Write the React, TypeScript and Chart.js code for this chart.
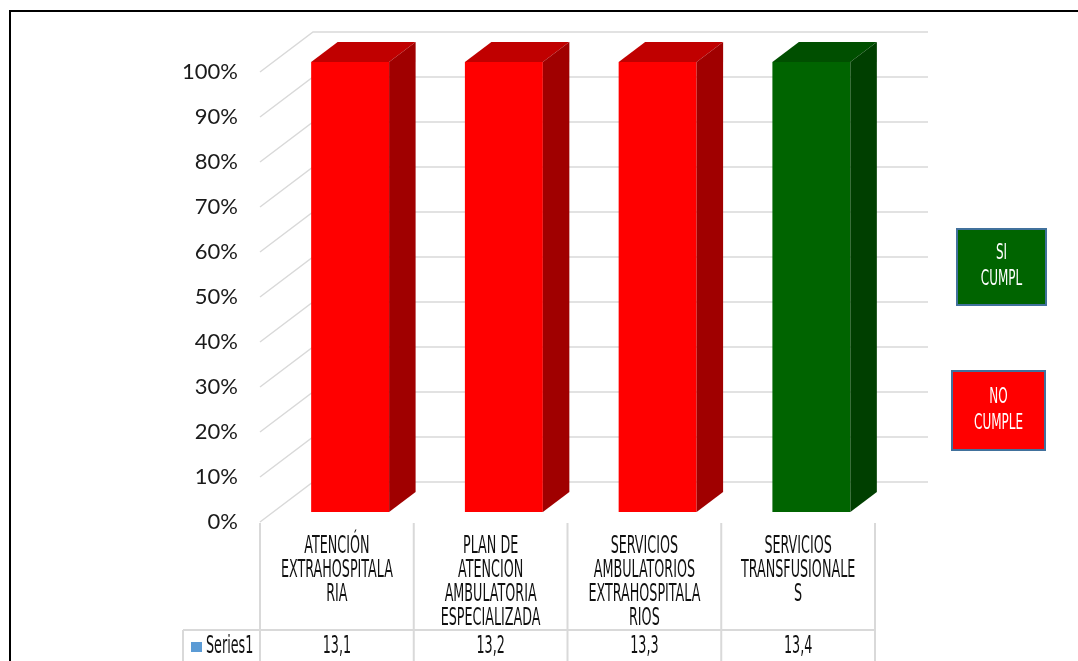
import React, { useEffect, useRef } from "react";
import { Chart, registerables } from "chart.js";

Chart.register(...registerables);

// ---------- data ----------
const categories: string[][] = [
  ["ATENCIÓN", "EXTRAHOSPITALA", "RIA"],
  ["PLAN DE", "ATENCION", "AMBULATORIA", "ESPECIALIZADA"],
  ["SERVICIOS", "AMBULATORIOS", "EXTRAHOSPITALA", "RIOS"],
  ["SERVICIOS", "TRANSFUSIONALE", "S"],
];
const seriesName = "Series1";
const sharePercent = [100, 100, 100, 100]; // 100% stacked share of the single series
const tableValues = ["13,1", "13,2", "13,3", "13,4"];
const yTickValues = [0, 10, 20, 30, 40, 50, 60, 70, 80, 90, 100];
const status = ["NO", "NO", "NO", "SI"];
const legendLabels = [
  ["SI", "CUMPL"],
  ["NO", "CUMPLE"],
];

// ---------- styles ----------
const FRONT: Record<string, string> = { NO: "#FF0000", SI: "#006400" };
const TOP: Record<string, string> = { NO: "#C00000", SI: "#004F00" };
const SIDE: Record<string, string> = { NO: "#A00000", SI: "#003F00" };
const GRID = "#D9D9D9";
const DEPTH_X = 53;
const DEPTH_Y = -40;
const NARROW = '"Liberation Sans Narrow", "DejaVu Sans Condensed", "Liberation Sans", sans-serif';

function fitScale(ctx: CanvasRenderingContext2D, size: number, sample: string, target: number) {
  ctx.save();
  ctx.font = `${size}px ${NARROW}`;
  const w = ctx.measureText(sample).width;
  ctx.restore();
  return target / w;
}

function drawNarrow(
  ctx: CanvasRenderingContext2D,
  text: string,
  x: number,
  y: number,
  size: number,
  color: string,
  align: CanvasTextAlign,
  k: number
) {
  ctx.save();
  ctx.font = `${size}px ${NARROW}`;
  ctx.fillStyle = color;
  ctx.textAlign = align;
  ctx.textBaseline = "middle";
  ctx.translate(x, y);
  ctx.scale(k, 1);
  ctx.fillText(text, 0, 0);
  ctx.restore();
}

const threeD = {
  id: "threeD",
  beforeDatasetsDraw(chart: any) {
    const { ctx, chartArea, scales } = chart;
    const y = scales.y;
    ctx.save();
    ctx.strokeStyle = GRID;
    ctx.lineWidth = 1.5;
    yTickValues.forEach((v) => {
      const py = y.getPixelForValue(v);
      ctx.beginPath();
      ctx.moveTo(chartArea.left, py);
      ctx.lineTo(chartArea.left + DEPTH_X, py + DEPTH_Y);
      ctx.lineTo(chartArea.right + DEPTH_X, py + DEPTH_Y);
      ctx.stroke();
    });
    ctx.restore();
  },
  beforeDatasetDraw(chart: any) {
    chart.ctx.save();
    chart.ctx.translate(DEPTH_X * 0.25, DEPTH_Y * 0.25);
  },
  afterDatasetDraw(chart: any, args: any) {
    const ctx = chart.ctx;
    const bdx = DEPTH_X * 0.5;
    const bdy = DEPTH_Y * 0.5;
    args.meta.data.forEach((bar: any, i: number) => {
      const { x, y, base, width } = bar.getProps(["x", "y", "base", "width"], true);
      const x0 = x - width / 2;
      const x1 = x + width / 2;
      const st = status[i];
      ctx.fillStyle = TOP[st];
      ctx.beginPath();
      ctx.moveTo(x0, y);
      ctx.lineTo(x0 + bdx, y + bdy);
      ctx.lineTo(x1 + bdx, y + bdy);
      ctx.lineTo(x1, y);
      ctx.closePath();
      ctx.fill();
      ctx.fillStyle = SIDE[st];
      ctx.beginPath();
      ctx.moveTo(x1, y);
      ctx.lineTo(x1 + bdx, y + bdy);
      ctx.lineTo(x1 + bdx, base + bdy);
      ctx.lineTo(x1, base);
      ctx.closePath();
      ctx.fill();
    });
    ctx.restore();
  },
  afterDraw(chart: any) {
    const { ctx, chartArea, scales, width: cw, height: ch } = chart;
    const x = scales.x;
    const n = categories.length;
    const colW = (chartArea.right - chartArea.left) / n;
    const CAT = 25;
    const kCat = fitScale(ctx, CAT, "EXTRAHOSPITALA", 112);
    const LEG = 21;
    const kLeg = fitScale(ctx, LEG, "CUMPLE", 49);
    const rowY = 630;

    // outer frame
    ctx.save();
    ctx.strokeStyle = "#000";
    ctx.lineWidth = 2;
    ctx.beginPath();
    ctx.moveTo(10, ch + 5);
    ctx.lineTo(10, 11);
    ctx.lineTo(cw + 5, 11);
    ctx.stroke();

    // data table lines
    ctx.strokeStyle = GRID;
    ctx.lineWidth = 2;
    for (let i = 0; i <= n; i++) {
      const lx = chartArea.left + i * colW;
      ctx.beginPath();
      ctx.moveTo(lx, chartArea.bottom + 1);
      ctx.lineTo(lx, ch);
      ctx.stroke();
    }
    ctx.beginPath();
    ctx.moveTo(183, rowY);
    ctx.lineTo(chartArea.right, rowY);
    ctx.stroke();
    ctx.beginPath();
    ctx.moveTo(183, rowY);
    ctx.lineTo(183, ch);
    ctx.stroke();
    ctx.restore();

    // category labels and table values
    categories.forEach((lines, i) => {
      const cx = x.getPixelForValue(i);
      lines.forEach((t, j) => {
        drawNarrow(ctx, t, cx, 546 + j * 24, CAT, "#111", "center", kCat);
      });
      drawNarrow(ctx, tableValues[i], cx, 646, CAT, "#111", "center", kCat);
    });

    // series row header
    ctx.save();
    ctx.fillStyle = "#5B9BD5";
    ctx.fillRect(191, 642, 11, 10);
    ctx.restore();
    drawNarrow(ctx, seriesName, 206, 646, CAT, "#111", "left", kCat);

    // legend boxes
    const boxes = [
      { x: 957, y: 229, w: 89, h: 76, color: FRONT.SI, lines: legendLabels[0] },
      { x: 952, y: 371, w: 93, h: 79, color: FRONT.NO, lines: legendLabels[1] },
    ];
    boxes.forEach((b) => {
      ctx.save();
      ctx.fillStyle = b.color;
      ctx.fillRect(b.x, b.y, b.w, b.h);
      ctx.strokeStyle = "#41719C";
      ctx.lineWidth = 2;
      ctx.strokeRect(b.x, b.y, b.w, b.h);
      ctx.restore();
      const cx = b.x + b.w / 2;
      const cy = b.y + b.h / 2;
      b.lines.forEach((t, j) => {
        drawNarrow(ctx, t, cx, cy - 13 + j * 26, LEG, "#FFFFFF", "center", kLeg);
      });
    });
  },
};

export default function App() {
  const ref = useRef<HTMLCanvasElement | null>(null);

  useEffect(() => {
    document.body.style.margin = "0";
    document.body.style.overflow = "hidden";
    const canvas = ref.current;
    if (!canvas) return;
    const chart = new Chart(canvas, {
      type: "bar",
      data: {
        labels: categories.map((c) => c.join(" ")),
        datasets: [
          {
            label: seriesName,
            data: sharePercent,
            backgroundColor: status.map((s) => FRONT[s]),
            borderWidth: 0,
            categoryPercentage: 1,
            barPercentage: 0.507,
            clip: false as any,
          },
        ],
      },
      options: {
        animation: false,
        responsive: false,
        maintainAspectRatio: false,
        layout: { padding: { left: 0, right: 1078 - 875, top: 72, bottom: 661 - 522 } },
        plugins: {
          legend: { display: false },
          tooltip: { enabled: false },
          title: { display: false },
        },
        scales: {
          x: { display: false },
          y: {
            min: 0,
            max: 100,
            grid: { display: false, drawTicks: false },
            border: { display: false },
            afterFit: (s: any) => {
              s.width = 260;
            },
            afterBuildTicks: (s: any) => {
              s.ticks = yTickValues.map((v) => ({ value: v }));
            },
            ticks: {
              padding: 22,
              color: "#1a1a1a",
              font: { family: "Lato", size: 22 },
              callback: (v: any) => `${v}%`,
            },
          },
        },
      },
      plugins: [threeD],
    });
    return () => chart.destroy();
  }, []);

  return (
    <div style={{ position: "fixed", left: 0, top: 0, width: 1078, height: 661, background: "#fff" }}>
      <canvas ref={ref} width={1078} height={661} style={{ display: "block" }} />
    </div>
  );
}
